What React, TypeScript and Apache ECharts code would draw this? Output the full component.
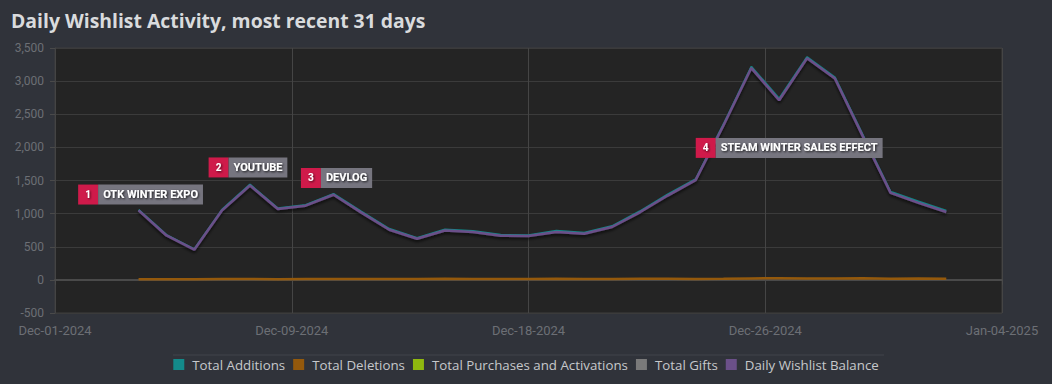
import React, { useEffect, useRef } from "react";
import * as echarts from "echarts";

const dates = [
  "2024-12-04", "2024-12-05", "2024-12-06", "2024-12-07", "2024-12-08", "2024-12-09",
  "2024-12-10", "2024-12-11", "2024-12-12", "2024-12-13", "2024-12-14", "2024-12-15",
  "2024-12-16", "2024-12-17", "2024-12-18", "2024-12-19", "2024-12-20", "2024-12-21",
  "2024-12-22", "2024-12-23", "2024-12-24", "2024-12-25", "2024-12-26", "2024-12-27",
  "2024-12-28", "2024-12-29", "2024-12-30", "2024-12-31", "2025-01-01", "2025-01-02",
];

const totalAdditions = [
  1058, 680, 464, 1062, 1439, 1081, 1132, 1298, 1030, 771, 632, 761,
  736, 680, 674, 740, 712, 812, 1036, 1290, 1520, 2348, 3219, 2736,
  3365, 3059, 2193, 1331, 1182, 1043,
];
const totalDeletions = [
  8, 10, 9, 12, 14, 11, 12, 13, 15, 14, 12, 16,
  14, 13, 12, 18, 15, 14, 16, 17, 15, 18, 22, 24,
  21, 19, 23, 18, 20, 18,
];
const totalPurchases: number[] = [];
const totalGifts: number[] = [];
const dailyBalance = [
  1050, 670, 455, 1050, 1425, 1070, 1120, 1285, 1015, 757, 620, 745,
  722, 667, 662, 722, 697, 798, 1020, 1273, 1505, 2330, 3197, 2712,
  3344, 3040, 2170, 1313, 1162, 1025,
];

const seriesNames = [
  "Total Additions",
  "Total Deletions",
  "Total Purchases and Activations",
  "Total Gifts",
  "Daily Wishlist Balance",
];
const seriesColors = ["#138a8a", "#94590c", "#8fb80f", "#7a7a7a", "#6b5089"];

const annotationNums = ["1", "2", "3", "4"];
const annotationTexts = ["OTK WINTER EXPO", "YOUTUBE", "DEVLOG", "STEAM WINTER SALES EFFECT"];
const annotationDates = ["2024-12-04", "2024-12-08", "2024-12-11", "2024-12-27"];
const annotationLevels = [1288, 1697, 1538, 1992];
const annotationShiftX = [2, -2, 3, 10];

const axisStart = "2024-12-01";
const axisDays = 34;
const axisStep = 8.5;
const yMin = -500;
const yMax = 3500;
const yStep = 500;

const MONTHS = ["Jan", "Feb", "Mar", "Apr", "May", "Jun", "Jul", "Aug", "Sep", "Oct", "Nov", "Dec"];
const DAY = 86400000;
const base = Date.parse(axisStart + "T00:00:00Z");
const toDay = (d: string) => (Date.parse(d + "T00:00:00Z") - base) / DAY;
const fmtDay = (v: number) => {
  const dt = new Date(base + Math.floor(v + 1e-6) * DAY);
  const dd = String(dt.getUTCDate()).padStart(2, "0");
  return `${MONTHS[dt.getUTCMonth()]}-${dd}-${dt.getUTCFullYear()}`;
};

export default function App() {
  const ref = useRef<HTMLDivElement>(null);
  useEffect(() => {
    if (!ref.current) return;
    const chart = echarts.init(ref.current, null, { renderer: "svg" });
    const xs = dates.map(toDay);
    const pair = (arr: number[]) => arr.map((v, i) => [xs[i], v]);
    const valuesList = [totalAdditions, totalDeletions, totalPurchases, totalGifts, dailyBalance];

    const labelFont = "Roboto, 'DejaVu Sans', sans-serif";
    const markData = annotationTexts.map((t, i) => ({
      coord: [toDay(annotationDates[i]), annotationLevels[i]],
      symbolSize: 0,
      label: {
        show: true,
        position: "inside",
        offset: [annotationShiftX[i], 0],
        formatter: `{n|${annotationNums[i]}}{t|${t}}`,
      },
    }));

    const series: any[] = seriesNames.map((name, i) => {
      const s: any = {
        name,
        type: "line",
        data: pair(valuesList[i]),
        showSymbol: false,
        symbol: "none",
        color: seriesColors[i],
        lineStyle: { width: i === 1 ? 2.5 : 2, color: seriesColors[i] },
        z: 2 + i,
      };
      if (i === 4) {
        s.lineStyle = {
          width: 2.5,
          color: seriesColors[i],
          shadowColor: "rgba(0,0,0,0.75)",
          shadowBlur: 3,
          shadowOffsetY: 2,
        };
        s.markPoint = {
          symbol: "circle",
          symbolSize: 0,
          silent: true,
          z: 10,
          label: {
            show: true,
            rich: {
              n: {
                backgroundColor: "#cf1a4a",
                color: "#ffffff",
                width: 20,
                height: 20,
                lineHeight: 20,
                align: "center",
                fontSize: 10,
                fontWeight: "bold",
                fontFamily: labelFont,
                textShadowColor: "rgba(0,0,0,0.7)",
                textShadowBlur: 2,
                textShadowOffsetX: 1,
                textShadowOffsetY: 1,
              },
              t: {
                backgroundColor: "#76757f",
                color: "#ffffff",
                height: 20,
                lineHeight: 20,
                padding: [0, 5, 0, 5],
                fontSize: 11,
                fontWeight: "bold",
                fontFamily: labelFont,
                textShadowColor: "rgba(0,0,0,0.85)",
                textShadowBlur: 2,
                textShadowOffsetX: 1,
                textShadowOffsetY: 1,
              },
            },
          },
          data: markData,
        };
      }
      return s;
    });

    chart.setOption({
      animation: false,
      backgroundColor: "#30333a",
      title: {
        text: "Daily Wishlist Activity, most recent 31 days",
        left: 11,
        top: 11,
        padding: 0,
        textStyle: {
          color: "#d9dbdd",
          fontSize: 19.4,
          fontWeight: "bold",
          fontFamily: "'Open Sans', 'Noto Sans', sans-serif",
        },
      },
      grid: {
        left: 55,
        right: 50,
        top: 48,
        bottom: 71,
        show: true,
        backgroundColor: "#242424",
        borderColor: "#3e3e3e",
        borderWidth: 1,
      },
      legend: {
        top: 358,
        left: "center",
        padding: 0,
        icon: "rect",
        itemWidth: 11,
        itemHeight: 11,
        itemGap: 8,
        data: seriesNames,
        textStyle: {
          color: "#c6c8cb",
          fontSize: 13.3,
          padding: [0, 0, 0, 3],
          fontFamily: "'Open Sans', 'Noto Sans', sans-serif",
        },
      },
      xAxis: {
        type: "value",
        min: 0,
        max: axisDays,
        interval: axisStep,
        axisLine: { show: true, lineStyle: { color: "#4a4a4a", width: 2 } },
        axisTick: { show: true, length: 5, lineStyle: { color: "#4a4a4a" } },
        splitLine: { show: true, lineStyle: { color: "#454545", width: 1 } },
        axisLabel: {
          color: "#6c6f75",
          fontSize: 13,
          margin: 11,
          fontFamily: "Roboto, sans-serif",
          formatter: (v: number) => fmtDay(v),
        },
      },
      yAxis: {
        type: "value",
        min: yMin,
        max: yMax,
        interval: yStep,
        axisLine: { show: true, lineStyle: { color: "#444444" } },
        axisTick: { show: true, length: 5, lineStyle: { color: "#4a4a4a" } },
        splitLine: { show: true, lineStyle: { color: "#3b3b3b", width: 1 } },
        axisLabel: {
          color: "#6c6f75",
          fontSize: 12,
          margin: 11,
          fontFamily: "Roboto, sans-serif",
          formatter: (v: number) => v.toLocaleString("en-US"),
        },
      },
      graphic: [
        {
          type: "line",
          shape: { x1: 173, y1: 355, x2: 884, y2: 355 },
          style: { stroke: "#41444b", lineWidth: 1 },
          silent: true,
        },
      ],
      series,
    });
    return () => chart.dispose();
  }, []);
  return (
    <div
      ref={ref}
      style={{ position: "fixed", left: 0, top: 0, width: 1052, height: 384 }}
    />
  );
}
